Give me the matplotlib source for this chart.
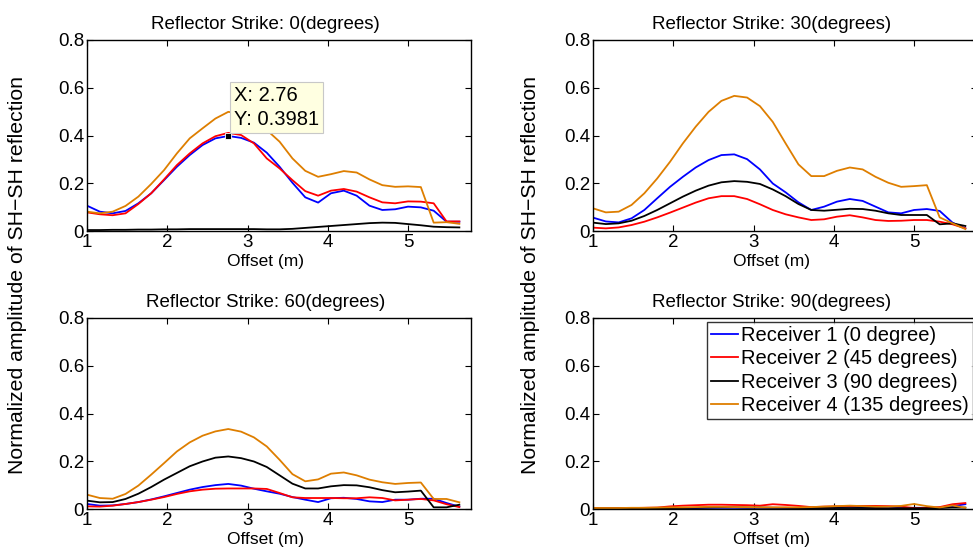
import matplotlib as mpl
import matplotlib.pyplot as plt

mpl.rcParams["font.family"] = ["Liberation Sans", "DejaVu Sans"]
mpl.rcParams["font.size"] = 13.5

# offset positions (m)
offset = [1.00, 1.16, 1.32, 1.48, 1.64, 1.80, 1.96, 2.12, 2.28, 2.44,
          2.60, 2.76, 2.92, 3.08, 3.24, 3.40, 3.56, 3.72, 3.88, 4.04,
          4.20, 4.36, 4.52, 4.68, 4.84, 5.00, 5.16, 5.32, 5.48, 5.64]

strikes = [0, 30, 60, 90]
labels = ["Receiver 1 (0 degree)", "Receiver 2 (45 degrees)",
          "Receiver 3 (90 degrees)", "Receiver 4 (135 degrees)"]
colors = ["#0000ff", "#ff0000", "#000000", "#de7e00"]

# strike 0
s0_r1 = [0.106, 0.081, 0.074, 0.084, 0.116, 0.158, 0.213, 0.269, 0.318, 0.360,
         0.388, 0.398, 0.390, 0.370, 0.328, 0.269, 0.202, 0.141, 0.119, 0.158,
         0.169, 0.148, 0.106, 0.088, 0.091, 0.102, 0.099, 0.085, 0.039, 0.039]
s0_r2 = [0.078, 0.070, 0.066, 0.074, 0.113, 0.158, 0.216, 0.276, 0.325, 0.367,
         0.397, 0.411, 0.402, 0.367, 0.304, 0.262, 0.213, 0.167, 0.148, 0.169,
         0.176, 0.165, 0.141, 0.120, 0.116, 0.124, 0.123, 0.116, 0.040, 0.040]
s0_r3 = [0.004, 0.004, 0.005, 0.005, 0.006, 0.006, 0.007, 0.007, 0.008, 0.008,
         0.008, 0.008, 0.008, 0.008, 0.007, 0.007, 0.009, 0.013, 0.017, 0.021,
         0.025, 0.029, 0.033, 0.035, 0.034, 0.029, 0.024, 0.018, 0.016, 0.015]
s0_r4 = [0.081, 0.074, 0.081, 0.105, 0.144, 0.197, 0.255, 0.325, 0.388, 0.430,
         0.471, 0.499, 0.492, 0.462, 0.423, 0.374, 0.304, 0.252, 0.227, 0.238,
         0.251, 0.245, 0.216, 0.192, 0.185, 0.187, 0.184, 0.035, 0.037, 0.030]

# strike 30
s30_r1 = [0.056, 0.040, 0.036, 0.053, 0.088, 0.137, 0.185, 0.227, 0.266, 0.297,
          0.318, 0.321, 0.301, 0.258, 0.199, 0.162, 0.120, 0.088, 0.102, 0.123,
          0.134, 0.126, 0.102, 0.078, 0.074, 0.088, 0.092, 0.084, 0.035, 0.011]
s30_r2 = [0.014, 0.011, 0.015, 0.025, 0.039, 0.057, 0.077, 0.098, 0.119, 0.137,
          0.146, 0.146, 0.134, 0.112, 0.088, 0.070, 0.057, 0.046, 0.049, 0.060,
          0.066, 0.057, 0.046, 0.042, 0.043, 0.046, 0.046, 0.039, 0.028, 0.011]
s30_r3 = [0.035, 0.029, 0.032, 0.043, 0.063, 0.088, 0.116, 0.144, 0.169, 0.190,
          0.204, 0.209, 0.206, 0.197, 0.174, 0.146, 0.113, 0.088, 0.085, 0.089,
          0.093, 0.092, 0.085, 0.074, 0.067, 0.067, 0.067, 0.028, 0.032, 0.021]
s30_r4 = [0.095, 0.078, 0.081, 0.109, 0.158, 0.220, 0.290, 0.367, 0.437, 0.499,
          0.545, 0.566, 0.559, 0.523, 0.457, 0.367, 0.279, 0.230, 0.230, 0.252,
          0.266, 0.258, 0.227, 0.202, 0.185, 0.188, 0.192, 0.057, 0.032, 0.008]

# strike 60
s60_r1 = [0.021, 0.014, 0.015, 0.021, 0.029, 0.040, 0.053, 0.067, 0.081, 0.092,
          0.100, 0.105, 0.098, 0.085, 0.074, 0.064, 0.050, 0.039, 0.029, 0.045,
          0.047, 0.042, 0.032, 0.029, 0.039, 0.039, 0.043, 0.043, 0.025, 0.010]
s60_r2 = [0.011, 0.010, 0.014, 0.021, 0.029, 0.039, 0.050, 0.063, 0.074, 0.081,
          0.085, 0.086, 0.086, 0.086, 0.084, 0.067, 0.049, 0.046, 0.046, 0.046,
          0.045, 0.045, 0.049, 0.046, 0.036, 0.039, 0.042, 0.036, 0.020, 0.008]
s60_r3 = [0.035, 0.028, 0.029, 0.042, 0.064, 0.092, 0.123, 0.151, 0.179, 0.199,
          0.215, 0.220, 0.213, 0.199, 0.176, 0.141, 0.106, 0.086, 0.086, 0.095,
          0.100, 0.099, 0.091, 0.079, 0.070, 0.073, 0.077, 0.007, 0.007, 0.018]
s60_r4 = [0.060, 0.046, 0.043, 0.063, 0.098, 0.144, 0.192, 0.241, 0.279, 0.307,
          0.325, 0.335, 0.324, 0.300, 0.262, 0.206, 0.146, 0.116, 0.124, 0.148,
          0.153, 0.141, 0.123, 0.112, 0.105, 0.109, 0.111, 0.042, 0.042, 0.028]

# strike 90
s90_r1 = [0.002, 0.002, 0.002, 0.003, 0.003, 0.003, 0.004, 0.004, 0.004, 0.005,
          0.005, 0.005, 0.005, 0.005, 0.005, 0.004, 0.004, 0.004, 0.005, 0.007,
          0.010, 0.007, 0.004, 0.004, 0.004, 0.005, 0.005, 0.006, 0.012, 0.020]
s90_r2 = [0.004, 0.004, 0.004, 0.004, 0.005, 0.006, 0.011, 0.014, 0.016, 0.018,
          0.018, 0.017, 0.016, 0.014, 0.020, 0.017, 0.013, 0.008, 0.010, 0.011,
          0.013, 0.013, 0.013, 0.012, 0.010, 0.004, 0.004, 0.008, 0.020, 0.025]
s90_r3 = [0.002, 0.002, 0.002, 0.002, 0.003, 0.003, 0.004, 0.004, 0.005, 0.006,
          0.007, 0.007, 0.006, 0.006, 0.005, 0.005, 0.004, 0.004, 0.004, 0.004,
          0.004, 0.004, 0.004, 0.003, 0.003, 0.003, 0.003, 0.004, 0.006, 0.006]
s90_r4 = [0.004, 0.004, 0.004, 0.005, 0.005, 0.006, 0.007, 0.007, 0.008, 0.009,
          0.009, 0.008, 0.008, 0.007, 0.007, 0.007, 0.007, 0.008, 0.010, 0.012,
          0.014, 0.012, 0.010, 0.010, 0.013, 0.021, 0.012, 0.006, 0.015, 0.005]

data = [[s0_r1, s0_r2, s0_r3, s0_r4],
        [s30_r1, s30_r2, s30_r3, s30_r4],
        [s60_r1, s60_r2, s60_r3, s60_r4],
        [s90_r1, s90_r2, s90_r3, s90_r4]]

xticks = [1, 2, 3, 4, 5]
yticks = [0, 0.2, 0.4, 0.6, 0.8]
yticklabels = ["0", "0.2", "0.4", "0.6", "0.8"]

fig = plt.figure(figsize=(9.73, 5.58), dpi=100)

W, H = 973.0, 558.0
ax_w = 384 / W
ax_h = 191 / H
lefts = [87 / W, 593 / W]
bottoms = [(H - 231) / H, (H - 509) / H]

axes = []
for i, strike in enumerate(strikes):
    row, col = divmod(i, 2)
    ax = fig.add_axes([lefts[col], bottoms[row], ax_w, ax_h])
    for series, c, lab in zip(data[i], colors, labels):
        ax.plot(offset, series, color=c, lw=1.3, label=lab)
    ax.set_xlim(1, 5.785)
    ax.set_ylim(0, 0.8)
    ax.set_xticks(xticks)
    ax.set_yticks(yticks)
    ax.set_yticklabels(yticklabels)
    ax.tick_params(direction="in", top=True, right=True, length=4, pad=2,
                   labelsize=13.5)
    for sp in ax.spines.values():
        sp.set_linewidth(1.0)
    ax.set_title("Reflector Strike: %d(degrees)" % strike, x=0.464, pad=8,
                 fontsize=13.5)
    ax.set_xlabel("Offset (m)", fontsize=12.5)
    ax.xaxis.set_label_coords(0.464, -0.12)
    axes.append(ax)

# data cursor on the first panel
ax0 = axes[0]
ax0.plot([2.76], [0.3981], marker="s", color="black", ms=4, mec="white", mew=0.6)
ax0.text(2.83, 0.428, "X: 2.76\nY: 0.3981", ha="left", va="bottom",
         fontsize=14.5, linespacing=1.3,
         bbox=dict(boxstyle="square,pad=0.2", fc="#ffffe1", ec="#c8c8c8", lw=0.8))

# legend on the last panel
leg = axes[3].legend(loc="upper right", bbox_to_anchor=(1.0, 1.0), fontsize=14.5,
                     frameon=True, fancybox=False, edgecolor="black",
                     handlelength=1.35, handletextpad=0.15, borderpad=0.2,
                     labelspacing=0.22, borderaxespad=0.2)
leg.get_frame().set_linewidth(1.0)

fig.text(18 / W, (H - 275) / H, "Normalized amplitude of SH\u2212SH reflection",
         rotation=90, ha="center", va="center", fontsize=15.3)
fig.text(530 / W, (H - 275) / H, "Normalized amplitude of SH\u2212SH reflection",
         rotation=90, ha="center", va="center", fontsize=15.3)

fig.savefig("out.png", dpi=100)
